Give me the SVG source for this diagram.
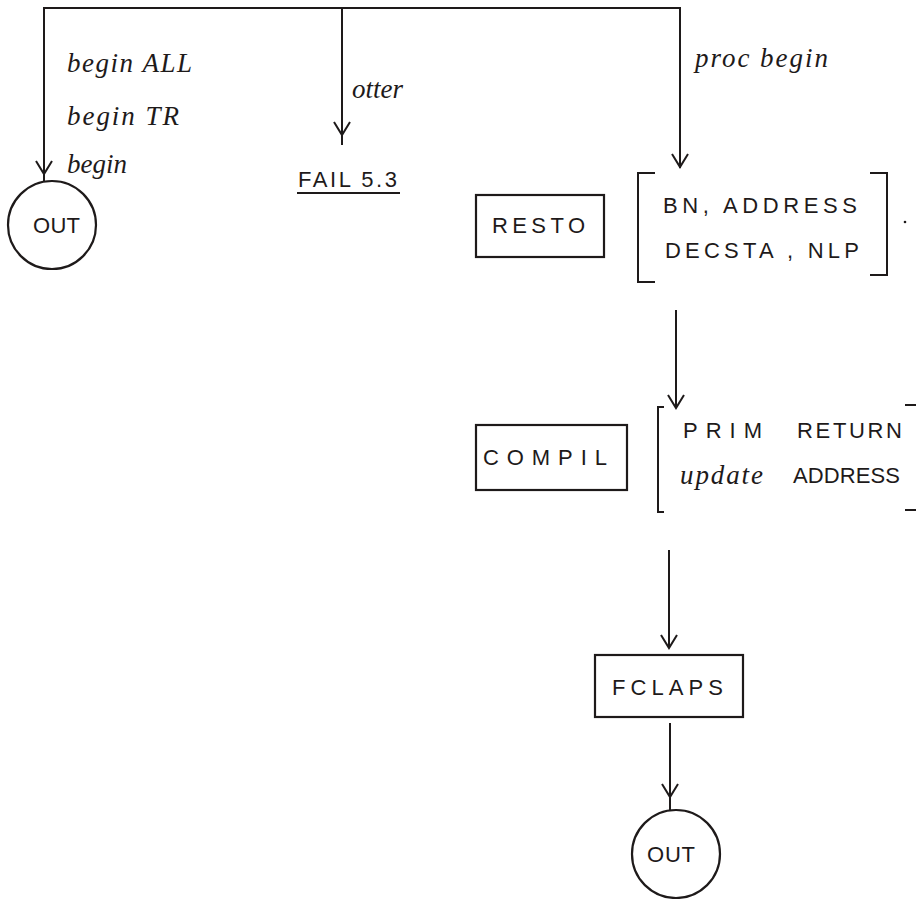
<svg xmlns="http://www.w3.org/2000/svg" width="917" height="899" viewBox="0 0 917 899">
  <style>
    .ln { fill: none; stroke: #1e1a1a; stroke-width: 2; }
    .bx { fill: none; stroke: #1e1a1a; stroke-width: 2.2; }
    .cap { font-family: "Liberation Sans", sans-serif; font-size: 22px; fill: #1e1a1a; }
    .hand { font-family: "Liberation Serif", serif; font-style: italic; font-size: 27px; fill: #1e1a1a; }
  </style>
  <defs>
    <marker id="vee" viewBox="0 0 20 20" refX="17" refY="10" markerWidth="20" markerHeight="20" markerUnits="userSpaceOnUse" orient="auto">
      <polyline points="4,2 17,10 4,18" fill="none" stroke="#1e1a1a" stroke-width="2"/>
    </marker>
  </defs>

  <g id="connectors">
    <!-- main dispatch bus -->
    <polyline class="ln" points="44,182 44,8 680,8 680,168" />
    <line class="ln" x1="44" y1="150" x2="44" y2="174" marker-end="url(#vee)" />
    <line class="ln" x1="680" y1="140" x2="680" y2="167" marker-end="url(#vee)" />
    <line class="ln" x1="342" y1="8" x2="342" y2="145" />
    <line class="ln" x1="342" y1="110" x2="342" y2="135" marker-end="url(#vee)" />
    <!-- RESTO to COMPIL -->
    <line class="ln" x1="676" y1="310" x2="676" y2="408" marker-end="url(#vee)" />
    <!-- COMPIL to FCLAPS -->
    <line class="ln" x1="669" y1="550" x2="669" y2="648" marker-end="url(#vee)" />
    <!-- FCLAPS to OUT -->
    <line class="ln" x1="670" y1="723" x2="670" y2="810" />
    <line class="ln" x1="670" y1="770" x2="670" y2="797" marker-end="url(#vee)" />
    <text class="hand" x="67" y="72" textLength="125" lengthAdjust="spacing">begin ALL</text>
    <text class="hand" x="67" y="125" textLength="112" lengthAdjust="spacing">begin TR</text>
    <text class="hand" x="67" y="173">begin</text>
    <text class="hand" x="352" y="98" font-size="21">otter</text>
    <text class="hand" x="695" y="67" textLength="133" lengthAdjust="spacing">proc begin</text>
  </g>

  <g id="out-top">
    <circle class="bx" cx="52" cy="225" r="44" />
    <text class="cap" x="33" y="233" font-size="18" textLength="47" lengthAdjust="spacing">OUT</text>
  </g>

  <g id="fail53">
    <text class="cap" x="298" y="187" font-size="20" textLength="99" lengthAdjust="spacing">FAIL 5.3</text>
    <line class="ln" x1="297" y1="193" x2="400" y2="193" />
  </g>

  <g id="resto">
    <rect class="bx" x="476" y="195" width="128" height="62" />
    <text class="cap" x="492" y="233" textLength="93" lengthAdjust="spacing">RESTO</text>
  </g>

  <g id="resto-info">
    <polyline class="ln" points="655,173 638,173 638,282 655,282" />
    <polyline class="ln" points="870,173 887,173 887,275 870,275" />
    <text class="cap" x="663" y="213" textLength="194" lengthAdjust="spacing">BN, ADDRESS</text>
    <text class="cap" x="665" y="258" textLength="194" lengthAdjust="spacing">DECSTA , NLP</text>
    <circle cx="905" cy="222" r="1.3" fill="#1e1a1a" />
  </g>

  <g id="compil">
    <rect class="bx" x="476" y="425" width="151" height="65" />
    <text class="cap" x="483" y="465" textLength="124" lengthAdjust="spacing">COMPIL</text>
  </g>

  <g id="compil-info">
    <polyline class="ln" points="664,407 658,407 658,512 664,512" />
    <polyline class="ln" points="905,405 916,405" />
    <polyline class="ln" points="905,510 916,510" />
    <text class="cap" x="683" y="438" textLength="79" lengthAdjust="spacing">PRIM</text>
    <text class="cap" x="797" y="438" font-size="20" textLength="105" lengthAdjust="spacing">RETURN</text>
    <text class="hand" x="680" y="484" textLength="83" lengthAdjust="spacing">update</text>
    <text class="cap" x="793" y="483" font-size="18" textLength="107" lengthAdjust="spacing">ADDRESS</text>
  </g>

  <g id="fclaps">
    <rect class="bx" x="595" y="655" width="148" height="62" />
    <text class="cap" x="612" y="695" textLength="111" lengthAdjust="spacing">FCLAPS</text>
  </g>

  <g id="out-bottom">
    <circle class="bx" cx="676" cy="854" r="44" />
    <text class="cap" x="647" y="862" font-size="18" textLength="48" lengthAdjust="spacing">OUT</text>
  </g>
</svg>
